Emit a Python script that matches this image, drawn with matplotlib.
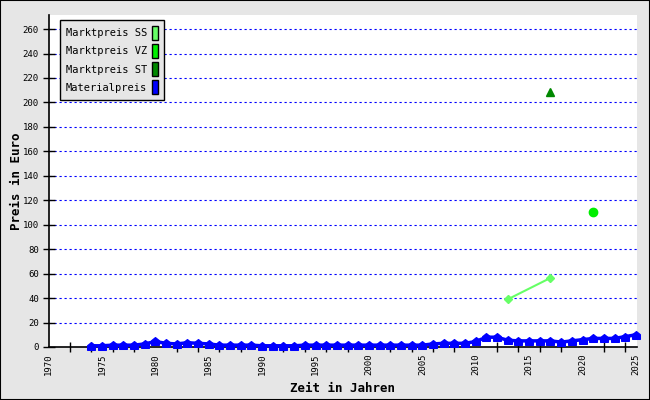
import matplotlib
matplotlib.use("Agg")
import matplotlib.pyplot as plt
from matplotlib.patches import Patch, Rectangle
from matplotlib.path import Path
from matplotlib.ticker import MultipleLocator

# --- data ---
mat_years = list(range(1974, 2026))
mat_price = [1, 1, 1.5, 1.5, 1.5, 2.5, 4.5, 3, 2.5, 3.5, 3, 2.5, 1.5, 1.5, 1.5, 1.5,
             1, 1, 1, 1, 1.5, 1.5, 1.5, 1.5, 1.5, 1.5, 1.5, 1.5, 1.5, 1.5, 1.5, 1.5,
             2.5, 3, 3, 3, 4.5, 8, 8, 5.5, 5, 5, 5, 5, 4, 5, 6, 7, 7, 7, 8.5, 10]

ss_years = [2013, 2017]
ss_price = [39, 56.5]

vz_years = [2021]
vz_price = [110]

st_years = [2017]
st_price = [208.5]

legend_labels = ["Marktpreis SS", "Marktpreis VZ", "Marktpreis ST", "Materialpreis"]
legend_colors = ["#66ff66", "#00ee00", "#008800", "#0000ff"]

BG = "#e6e6e6"
MONO = "DejaVu Sans Mono"

# "house" shaped marker like the jpgraph default
house = Path([(-1, -1), (1, -1), (1, 0.2), (0, 1), (-1, 0.2), (-1, -1)],
             [Path.MOVETO] + [Path.LINETO] * 4 + [Path.CLOSEPOLY])

fig = plt.figure(figsize=(6.5, 4), dpi=100, facecolor=BG)
ax = fig.add_axes([48.5 / 650, 53 / 400, (637 - 48.5) / 650, (347 - 15) / 400])
ax.set_facecolor("white")

ax.plot(mat_years, mat_price, color="#0000ff", lw=2.5, marker=house,
        markersize=5.5, zorder=4, clip_on=False)
ax.plot(ss_years, ss_price, color="#66ff66", lw=1.5, marker="D",
        markersize=4, zorder=3)
ax.plot(vz_years, vz_price, color="#00ee00", lw=0, marker="o", markersize=6, zorder=3)
ax.plot(st_years, st_price, color="#008800", lw=0, marker="^", markersize=6, zorder=3)

ax.set_xlim(1970, 2025.1)
ax.set_ylim(0, 271.5)

ax.yaxis.set_major_locator(MultipleLocator(20))
ax.grid(axis="y", color="#0000ff", linestyle=(0, (2, 2.5)), lw=0.8)
ax.set_axisbelow(True)

ax.xaxis.set_major_locator(MultipleLocator(5))
ax.xaxis.set_minor_locator(MultipleLocator(2))
ax.tick_params(axis="x", which="major", length=0, labelrotation=90, labelsize=6.5, pad=5)
ax.tick_params(axis="x", which="minor", length=7, direction="inout", width=1)
ax.tick_params(axis="y", length=8, direction="inout", width=1, labelsize=6.5, pad=3)
for lab in ax.get_xticklabels() + ax.get_yticklabels():
    lab.set_fontfamily(MONO)

for side in ["top", "right"]:
    ax.spines[side].set_visible(False)
for side in ["left", "bottom"]:
    ax.spines[side].set_linewidth(1.2)

ax.set_xlabel("Zeit in Jahren", fontfamily=MONO, fontweight="bold", fontsize=9)
ax.set_ylabel("Preis in Euro", fontfamily=MONO, fontweight="bold", fontsize=9)
ax.xaxis.set_label_coords(0.5, -0.105)
ax.yaxis.set_label_coords(-0.044, 0.5)

handles = [Patch(facecolor=c, edgecolor="black", lw=1) for c in legend_colors]
leg = ax.legend(handles, legend_labels, loc="upper left", bbox_to_anchor=(0.0195, 0.985),
                borderaxespad=0, markerfirst=False, handlelength=0.6, handleheight=1.7,
                handletextpad=0.5, labelspacing=0.4, borderpad=0.55, fancybox=False,
                framealpha=1, prop={"family": MONO, "size": 7.5})
leg.get_frame().set_facecolor(BG)
leg.get_frame().set_edgecolor("black")
leg.get_frame().set_linewidth(1)

fig.patches.append(Rectangle((0, 0), 1, 1, transform=fig.transFigure, fill=False,
                             edgecolor="black", lw=1.5))

fig.savefig("out.png", dpi=100, facecolor=BG)
